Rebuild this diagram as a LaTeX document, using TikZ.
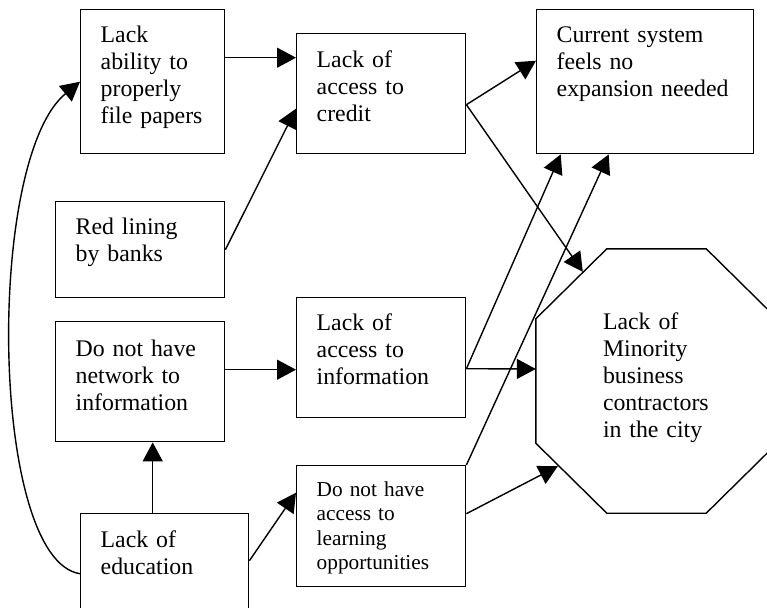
\documentclass[tikz,border=0pt]{standalone}
\usepackage{fontspec}
\setmainfont{Liberation Serif}
\usepackage{tikz}
\usetikzlibrary{arrows.meta, calc}

\begin{document}
\begin{tikzpicture}[x=1pt, y=-1pt,
    cause/.style={draw, line width=1.4pt, anchor=north west, align=left,
      inner xsep=20pt, inner ysep=0pt, font=\fontsize{23.8}{27}\selectfont},
    arr/.style={-{Triangle[length=19pt,width=20pt]}, line width=1.4pt}]
    \useasboundingbox (0,0) rectangle (767,607);

    % Causes, left column
    \node[cause, text width=104pt, text height=33pt, text depth=111pt] (paper) at (80,9) {Lack\\ ability to\\ properly\\ file papers};
    \node[cause, text width=129pt, text height=33pt, text depth=63pt] (redline) at (55,201) {Red lining\\ by banks};
    \node[cause, text width=129pt, text height=35pt, text depth=85pt] (network) at (55,321) {Do not have\\ network to\\ information};
    \node[cause, text width=128pt, text height=34pt, text depth=86pt] (edu) at (80,513) {Lack of\\ education};

    % Middle column
    \node[cause, text width=129pt, text height=34pt, text depth=86pt] (credit) at (296,33) {Lack of\\ access to\\ credit};
    \node[cause, text width=129pt, text height=33pt, text depth=87pt] (info) at (296,297) {Lack of\\ access to\\ information};
    \node[cause, text width=129pt, text height=31pt, text depth=90pt, font=\fontsize{21.3}{24.2}\selectfont] (learn) at (296,465) {Do not have\\ access to\\ learning\\ opportunities};

    % Right column
    \node[cause, text width=177pt, text height=33pt, text depth=111pt] (system) at (536,9) {Current system\\ feels no\\ expansion needed};
    \node[minimum width=241pt, minimum height=264pt, inner sep=0pt, text width=107pt, align=left,
      text height=14pt, text depth=118pt, font=\fontsize{23.8}{27}\selectfont] (goal) at (656.5,381) {Lack of\\ Minority\\ business\\ contractors\\ in the city};
    % Octagon round the goal
    \draw[line width=1.4pt] ($(goal.north west)+(71,0)$) -- ($(goal.north east)+(-71,0)$)
      -- ($(goal.north east)+(0,70)$) -- ($(goal.south east)+(0,-70)$)
      -- ($(goal.south east)+(-71,0)$) -- ($(goal.south west)+(71,0)$)
      -- ($(goal.south west)+(0,-70)$) -- ($(goal.north west)+(0,70)$) -- cycle;

    % Arrows
    \draw[arr] ($(paper.east)+(0,-24)$) -- ($(credit.west)+(0,-36)$);
    \draw[arr] (redline.east) -- ($(credit.west)+(0,15)$);
    \draw[arr] ($(credit.east)+(0,11)$) -- ($(system.west)+(0,-21)$);
    \draw[arr] ($(credit.east)+(0,11)$) -- ($(goal.north west)+(47,23)$);
    \draw[arr] ($(network.east)+(0,-12)$) -- ($(info.west)+(0,12)$);
    \draw[arr] ($(edu.north)+(-12,0)$) -- ($(network.south)+(12.5,0)$);
    \draw[arr] (edu.west) .. controls (-10,560) and (-15,160) .. (paper.west);
    \draw[arr] ($(edu.east)+(0,-13)$) -- ($(learn.west)+(0,-33.5)$);
    \draw[arr] ($(info.east)+(0,11)$) -- ($(system.south)+(-84.5,0)$);
    \draw[arr] ($(info.east)+(0,11)$) -- ($(goal.west)+(0,-12)$);
    \draw[arr] (learn.north east) -- ($(system.south)+(-36.5,0)$);
    \draw[arr] ($(learn.east)+(0,-12.5)$) -- ($(goal.south west)+(22,-47)$);
\end{tikzpicture}
\end{document}
